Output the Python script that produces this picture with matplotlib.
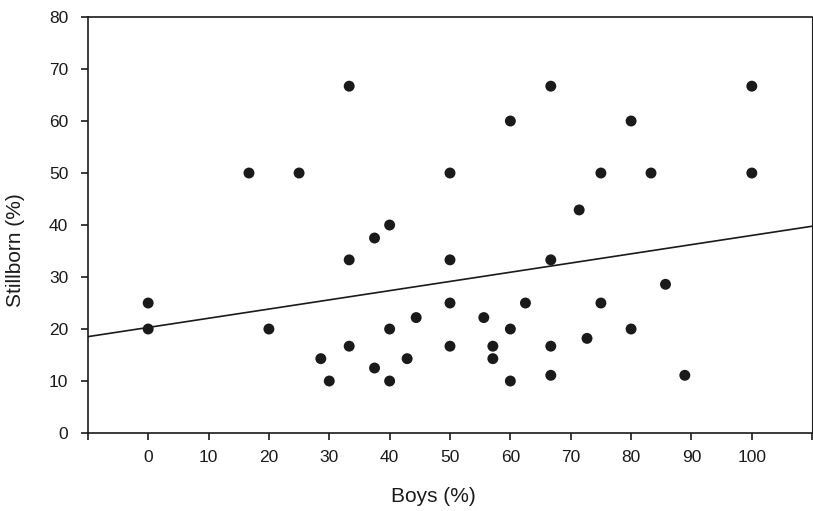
import numpy as np
import matplotlib.pyplot as plt

plt.rcParams['font.family'] = ['Liberation Sans', 'DejaVu Sans']

# % boys and % stillborn per sibship
boys = [0, 0, 16.7, 25, 33.3, 33.3, 33.3, 20, 28.6, 30,
        37.5, 40, 37.5, 40, 40, 42.9, 44.4, 50, 50, 50,
        50, 55.6, 57.1, 57.1, 60, 60, 60, 66.7, 66.7, 66.7,
        66.7, 62.5, 71.4, 72.7, 75, 75, 80, 80, 83.3, 85.7,
        88.9, 100, 100]
stillborn = [25, 20, 50, 50, 66.7, 33.3, 16.7, 20, 14.3, 10,
             37.5, 40, 12.5, 20, 10, 14.3, 22.2, 50, 33.3, 25,
             16.7, 22.2, 16.7, 14.3, 20, 10, 60, 66.7, 33.3, 16.7,
             11.1, 25, 42.9, 18.2, 50, 25, 60, 20, 50, 28.6,
             11.1, 66.7, 50]

# fitted line
fit_intercept = 20.3
fit_slope = 0.177

xticks = list(range(-10, 111, 10))
xticklabels = ['' if t < 0 or t > 100 else str(t) for t in xticks]
yticks = list(range(0, 81, 10))


def main():
    fig = plt.figure(figsize=(8.13, 5.11), dpi=100)
    ax = fig.add_axes([0.108, 0.1526, 0.891, 0.8141])

    xs = np.array([-10, 110])
    ax.plot(xs, fit_intercept + fit_slope * xs, c='#1a1a1a', lw=1.2, zorder=1)
    ax.scatter(boys, stillborn, s=62, color='#1a1a1a', edgecolors='none', zorder=2)

    ax.set_xlim(-10, 110)
    ax.set_ylim(0, 80)
    ax.set_xticks(xticks)
    ax.set_xticklabels(xticklabels)
    ax.set_yticks(yticks)

    for sp in ax.spines.values():
        sp.set_linewidth(1.2)
        sp.set_color('#1a1a1a')
    ax.spines['right'].set_linewidth(0.8)

    ax.tick_params(axis='both', direction='out', length=5, width=1.2,
                   labelsize=12.5, colors='#1a1a1a')
    ax.tick_params(axis='y', pad=9)
    ax.tick_params(axis='x', pad=7)

    ax.set_xlabel('Boys (%)', fontsize=15, color='#1a1a1a')
    ax.set_ylabel('Stillborn (%)', fontsize=15, color='#1a1a1a')
    ax.xaxis.set_label_coords(0.477, -0.13)
    ax.yaxis.set_label_coords(-0.087, 0.44)

    fig.savefig('out.png', dpi=100)


if __name__ == '__main__':
    main()
